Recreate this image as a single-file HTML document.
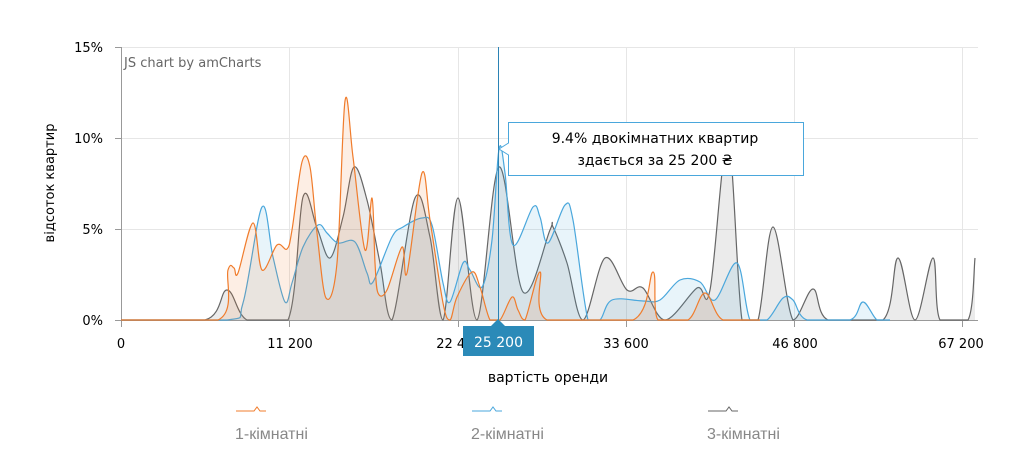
<!DOCTYPE html>
<html><head><meta charset="utf-8"><style>
html,body{margin:0;padding:0;background:#fff;}
svg{display:block;font-family:"DejaVu Sans",sans-serif;}
</style></head><body>
<svg id="c" width="1018" height="471" xmlns="http://www.w3.org/2000/svg">
<g stroke="#e6e6e6" stroke-width="1">
<line x1="121" y1="47.5" x2="978" y2="47.5"/><line x1="121" y1="138.5" x2="978" y2="138.5"/><line x1="121" y1="229.5" x2="978" y2="229.5"/>
<line x1="289.5" y1="47" x2="289.5" y2="321"/><line x1="458.5" y1="47" x2="458.5" y2="321"/><line x1="626.5" y1="47" x2="626.5" y2="321"/><line x1="794.5" y1="47" x2="794.5" y2="321"/><line x1="962.5" y1="47" x2="962.5" y2="321"/>
</g>
<g stroke="#999" stroke-width="1">
<line x1="121.5" y1="47" x2="121.5" y2="321"/><line x1="115" y1="47.5" x2="121" y2="47.5"/><line x1="115" y1="138.5" x2="121" y2="138.5"/><line x1="115" y1="229.5" x2="121" y2="229.5"/><line x1="115" y1="320.5" x2="121" y2="320.5"/>
<line x1="121" y1="320.5" x2="978" y2="320.5"/>
<line x1="121.5" y1="321" x2="121.5" y2="327"/><line x1="289.5" y1="321" x2="289.5" y2="327"/><line x1="458.5" y1="321" x2="458.5" y2="327"/><line x1="626.5" y1="321" x2="626.5" y2="327"/><line x1="794.5" y1="321" x2="794.5" y2="327"/><line x1="962.5" y1="321" x2="962.5" y2="327"/>
</g>
<g id="series"></g>
<g font-size="13" fill="#000" text-anchor="end">
<text x="103" y="52">15%</text><text x="103" y="143">10%</text><text x="103" y="234">5%</text><text x="103" y="325">0%</text>
</g>
<text x="0" y="0" font-size="13" text-anchor="middle" transform="translate(54,183) rotate(-90)">відсоток квартир</text>
<text x="124" y="67" font-size="13" fill="#666">JS chart by amCharts</text>
<g font-size="13" text-anchor="middle">
<text x="121" y="348">0</text><text x="290" y="348">11 200</text><text x="459" y="348">22 400</text><text x="626" y="348">33 600</text><text x="795" y="348">46 800</text><text x="961" y="348">67 200</text>
</g>
<text x="548" y="382" font-size="14" text-anchor="middle">вартість оренди</text>
<line x1="498.5" y1="47" x2="498.5" y2="321" stroke="#2b83b5" stroke-width="1"/>
<path d="M508.5,122.5 H803.5 V175.5 H508.5 V155 L499,149 L508.5,143 Z" fill="#fff" stroke="#4aa7dc" stroke-width="1"/>
<text x="655" y="143" font-size="14" text-anchor="middle">9.4% двокімнатних квартир</text>
<text x="655" y="165" font-size="14" text-anchor="middle">здається за 25 200 ₴</text>
<rect x="463" y="326" width="71" height="30" fill="#2b8ab8"/>
<path d="M491,326 L498,319 L505,326 Z" fill="#2b8ab8"/>
<text x="498.5" y="347" font-size="14" fill="#fff" text-anchor="middle">25 200</text>
<g fill="none" stroke-width="1">
<path d="M236,411 H254 L257,407 L260,411 H266" stroke="#f07c2c"/>
<path d="M472,411 H490 L493,407 L496,411 H502" stroke="#4aa7dc"/>
<path d="M708,411 H726 L729,407 L732,411 H738" stroke="#666"/>
</g>
<g font-size="16" fill="#888" font-family="Liberation Sans, sans-serif">
<text x="235" y="439">1-кімнатні</text><text x="471" y="439">2-кімнатні</text><text x="707" y="439">3-кімнатні</text>
</g>
</svg>
<script>
var O=[[121,320],[218,320],[228,270],[234,268],[238,273],[253,223],[262,270],[277,245],[287,249],[292,230],[302,162],[310,167],[317,233],[326,298],[337,263],[345,101],[353,157],[365,250],[372,198],[375,263],[378,293],[387,290],[402,247],[407,273],[422,173],[430,220],[443,303],[450,320],[457,297],[472,272],[480,287],[490,320],[500,320],[512,297],[518,310],[525,320],[540,272],[547,320],[633,320],[653,272],[658,320],[688,320],[705,293],[723,320],[760,320]];
var B=[[121,320],[227,320],[243,303],[262,207],[273,257],[285,302],[292,283],[303,247],[318,225],[327,233],[338,243],[355,242],[367,273],[373,282],[392,237],[403,227],[422,218],[432,225],[443,283],[450,302],[463,263],[470,270],[482,287],[492,240],[499,149],[505,173],[513,245],[533,207],[540,217],[548,243],[565,205],[573,220],[588,320],[600,320],[612,300],[643,301],[660,300],[680,280],[700,282],[715,300],[737,263],[750,320],[767,320],[783,298],[793,300],[807,320],[850,320],[863,302],[877,320],[890,320]];
var G=[[121,320],[205,320],[227,290],[247,320],[288,320],[303,197],[317,228],[330,258],[343,217],[354,167],[367,200],[380,263],[392,320],[415,198],[430,237],[443,320],[458,198],[477,320],[499,167],[523,292],[550,230],[553,227],[567,263],[583,320],[605,258],[627,290],[643,288],[665,320],[697,288],[710,290],[728,140],[742,320],[758,320],[773,227],[793,320],[813,289],[828,320],[883,320],[898,258],[915,320],[933,258],[940,320],[968,320],[975,258]];
function sm(p){var d="M"+p[0][0]+","+p[0][1];for(var i=0;i<p.length-1;i++){var a=p[i-1]||p[i],b=p[i],c=p[i+1],e=p[i+2]||c;var t=6;var c1x=b[0]+(c[0]-a[0])/t,c1y=b[1]+(c[1]-a[1])/t,c2x=c[0]-(e[0]-b[0])/t,c2y=c[1]-(e[1]-b[1])/t;c1y=Math.min(c1y,320);c2y=Math.min(c2y,320);d+=" C"+c1x.toFixed(1)+","+c1y.toFixed(1)+" "+c2x.toFixed(1)+","+c2y.toFixed(1)+" "+c[0]+","+c[1];}return d;}
var g=document.getElementById("series"),h="";
[[G,"#666",0.13],[B,"#4aa7dc",0.13],[O,"#f07c2c",0.13]].forEach(function(s){var d=sm(s[0]);var l=s[0][s[0].length-1];h+='<path d="'+d+' L'+l[0]+',320 L121,320 Z" fill="'+s[1]+'" fill-opacity="'+s[2]+'"/>';h+='<path d="'+d+'" fill="none" stroke="'+s[1]+'" stroke-width="1.2"/>';});
g.innerHTML=h;
</script>
</body></html>
